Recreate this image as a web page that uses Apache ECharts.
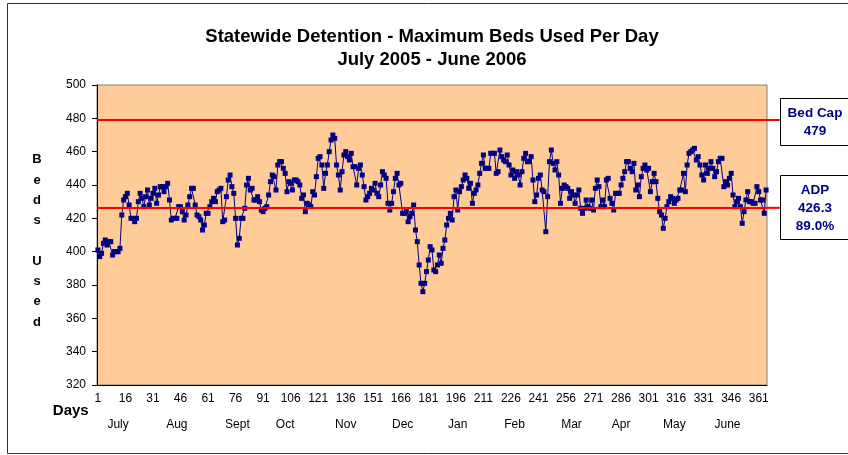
<!DOCTYPE html>
<html>
<head>
<meta charset="utf-8">
<script src="https://cdn.jsdelivr.net/npm/echarts@6/dist/echarts.min.js"></script>
<style>
  html, body { margin: 0; padding: 0; background: #fff; }
  #chart { width: 848px; height: 455px; }
</style>
</head>
<body>
<div id="chart"></div>
<script>
// max beds used per day, July 2005 - June 2006
const bedsUsed = [
  401, 397, 399, 405, 407, 404, 406, 406, 398, 400, 400, 400, 402, 422, 431, 433, 435, 428, 420, 420,
  418, 420, 430, 435, 432, 427, 433, 437, 428, 432, 435, 438, 429, 434, 439, 439, 436, 439, 441, 431,
  419, 420, 420, 420, 427, 427, 424, 419, 422, 428, 433, 438, 438, 428, 422, 421, 419, 413, 416, 423,
  423, 427, 430, 432, 430, 436, 437, 438, 418, 419, 433, 443, 446, 439, 435, 420, 404, 408, 420, 420,
  426, 440, 444, 437, 438, 431, 431, 433, 430, 425, 424, 426, 427, 434, 442, 446, 445, 437, 452, 454,
  454, 450, 447, 436, 442, 441, 437, 443, 443, 442, 440, 432, 434, 424, 429, 428, 427, 436, 434, 445,
  456, 457, 452, 438, 447, 452, 460, 467, 470, 468, 452, 446, 437, 448, 458, 460, 457, 455, 459, 451,
  451, 440, 450, 452, 446, 439, 431, 433, 435, 438, 437, 441, 435, 433, 440, 448, 446, 444, 429, 425,
  429, 436, 444, 447, 440, 441, 423, 423, 424, 418, 421, 423, 428, 413, 406, 392, 381, 376, 381, 388,
  395, 403, 401, 389, 388, 392, 398, 393, 402, 407, 416, 420, 423, 419, 433, 437, 425, 436, 439, 443,
  446, 444, 438, 441, 429, 435, 437, 440, 447, 453, 458, 450, 450, 450, 459, 459, 459, 447, 448, 461,
  457, 455, 454, 458, 452, 446, 449, 444, 448, 446, 440, 448, 456, 459, 454, 454, 457, 443, 430, 434,
  444, 446, 437, 436, 412, 433, 454, 461, 453, 449, 454, 446, 429, 438, 440, 439, 438, 432, 436, 434,
  429, 434, 437, 426, 423, 426, 431, 427, 426, 431, 425, 438, 443, 439, 427, 431, 427, 443, 444, 432,
  429, 425, 435, 435, 435, 440, 444, 448, 454, 454, 450, 448, 453, 437, 440, 433, 445, 450, 452, 449,
  450, 436, 442, 447, 442, 432, 424, 422, 414, 420, 427, 430, 433, 432, 429, 431, 432, 437, 437, 447,
  436, 452, 459, 460, 461, 462, 455, 457, 452, 446, 443, 452, 447, 450, 454, 450, 445, 448, 454, 456,
  456, 439, 442, 440, 444, 447, 434, 427, 430, 432, 427, 417, 424, 431, 436, 430, 430, 429, 429, 439,
  436, 431, 431, 423, 437
];
const dayLabels = bedsUsed.map((v, i) => String(i + 1));
const monthNames = ['July', 'Aug', 'Sept', 'Oct', 'Nov', 'Dec', 'Jan', 'Feb', 'Mar', 'Apr', 'May', 'June'];
const monthLabelDays = [12, 44, 77, 103, 136, 167, 197, 228, 259, 286, 315, 344];
const bedCap = 479;
const adp = 426.3;
const adpPct = '89.0%';

const FONT = 'Arial, "Liberation Sans", sans-serif';
const NAVY = '#000080';

const monthAxisData = dayLabels.map(() => '');
monthLabelDays.forEach((d, i) => { monthAxisData[d - 1] = monthNames[i]; });

const chart = echarts.init(document.getElementById('chart'));

const grid = { left: 97, top: 85, width: 670, height: 300 };

const option = {
  animation: false,
  backgroundColor: '#fff',
  title: {
    text: 'Statewide Detention - Maximum Beds Used Per Day\nJuly 2005 - June 2006',
    left: 427,
    top: 20,
    textAlign: 'center',
    textStyle: { fontFamily: FONT, fontSize: 18.5, fontWeight: 'bold', color: '#000', lineHeight: 23 }
  },
  grid: Object.assign({
    show: true,
    backgroundColor: '#FFCC99',
    borderColor: '#808080',
    borderWidth: 1
  }, grid),
  xAxis: [
    {
      type: 'category',
      data: dayLabels,
      boundaryGap: true,
      name: 'Days',
      nameLocation: 'start',
      nameGap: 2,
      nameTextStyle: {
        fontFamily: FONT, fontSize: 15, fontWeight: 'bold', color: '#000',
        align: 'right', verticalAlign: 'top', padding: [18, 0, 0, 0]
      },
      axisLine: { lineStyle: { color: '#000', width: 1 } },
      axisTick: { interval: 0, length: 4, lineStyle: { color: '#000' } },
      axisLabel: { interval: 14, fontFamily: FONT, fontSize: 12, color: '#000', margin: 8 }
    },
    {
      type: 'category',
      data: monthAxisData,
      boundaryGap: true,
      position: 'bottom',
      offset: 26,
      axisLine: { show: false },
      axisTick: { show: false },
      axisLabel: { interval: 0, fontFamily: FONT, fontSize: 12, color: '#000', margin: 8 }
    }
  ],
  yAxis: {
    type: 'value',
    min: 320,
    max: 500,
    interval: 20,
    splitLine: { show: false },
    axisLine: { show: true, lineStyle: { color: '#000' } },
    axisTick: { show: true, length: 5, lineStyle: { color: '#000' } },
    axisLabel: { fontFamily: FONT, fontSize: 12, color: '#000', margin: 11 }
  },
  series: [
    {
      type: 'line',
      data: bedsUsed,
      symbol: 'rect',
      symbolSize: 5,
      showAllSymbol: true,
      lineStyle: { color: NAVY, width: 1 },
      itemStyle: { color: NAVY },
      markLine: {
        silent: true,
        symbol: 'none',
        label: { show: false },
        lineStyle: { color: '#FF0000', width: 2, type: 'solid' },
        data: [{ yAxis: bedCap }, { yAxis: adp }]
      }
    }
  ]
};

chart.setOption(option);

// boxes on the right, placed from the axis scale
const plotRight = grid.left + grid.width;
const boxLeft = plotRight + 13;
const boxW = 80;
const capY = chart.convertToPixel({ yAxisIndex: 0 }, bedCap);
const adpY = chart.convertToPixel({ yAxisIndex: 0 }, adp);
const boxText = { fontFamily: FONT, fontSize: 13.5, fontWeight: 'bold', fill: NAVY, align: 'center', verticalAlign: 'middle', lineHeight: 18 };

chart.setOption({
  graphic: [
    { type: 'rect', shape: { x: 7.5, y: 3.5, width: 860, height: 450 }, style: { fill: 'none', stroke: '#333', lineWidth: 1 }, z: -1 },
    // vertical axis title, stacked letters
    { type: 'text', x: grid.left - 60, y: grid.top + grid.height / 2 + 6,
      style: { text: 'B\ne\nd\ns\n\nU\ns\ne\nd', fontFamily: FONT, fontSize: 13, fontWeight: 'bold', fill: '#000', align: 'center', verticalAlign: 'middle', lineHeight: 20.3 } },
    { type: 'line', shape: { x1: plotRight, y1: capY, x2: boxLeft, y2: capY }, style: { stroke: '#FF0000', lineWidth: 2 } },
    { type: 'line', shape: { x1: plotRight, y1: adpY, x2: boxLeft, y2: adpY }, style: { stroke: '#FF0000', lineWidth: 2 } },
    { type: 'rect', shape: { x: boxLeft + 0.5, y: Math.round(capY - 22) + 0.5, width: boxW, height: 47 }, style: { fill: '#fff', stroke: '#000', lineWidth: 1 } },
    { type: 'text', x: boxLeft + 35, y: capY + 2, style: Object.assign({ text: 'Bed Cap\n' + bedCap }, boxText) },
    { type: 'rect', shape: { x: boxLeft + 0.5, y: Math.round(adpY - 33) + 0.5, width: boxW, height: 64 }, style: { fill: '#fff', stroke: '#000', lineWidth: 1 } },
    { type: 'text', x: boxLeft + 35, y: adpY, style: Object.assign({ text: 'ADP\n' + adp + '\n' + adpPct }, boxText) }
  ]
});
</script>
</body>
</html>
